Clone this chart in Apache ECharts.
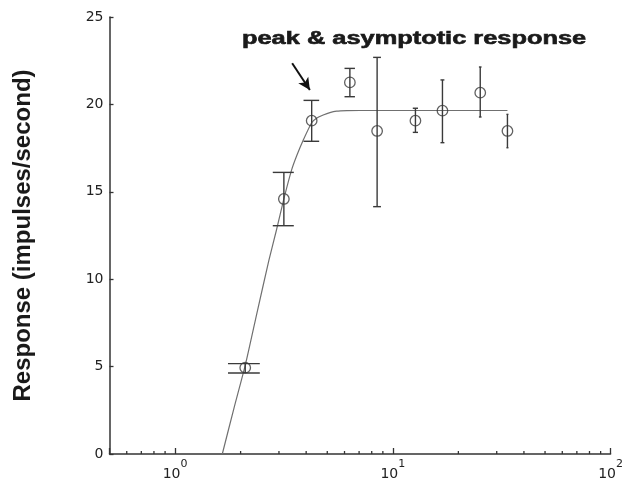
<!DOCTYPE html>
<html><head><meta charset="utf-8">
<script src="https://cdn.jsdelivr.net/npm/echarts@6/dist/echarts.min.js"></script>
<style>html,body{margin:0;padding:0;background:#fff}#c{width:626px;height:487px}</style>
</head><body><div id="c"></div>
<script>
// Measured data points (stimulus value on log axis, response)
const xVals = [2.10, 3.16, 4.24, 6.35, 8.47, 12.7, 16.9, 25.2, 33.6];
const yVals = [4.94, 14.59, 19.07, 21.26, 18.48, 19.07, 19.64, 20.67, 18.48];
const yLow  = [4.63, 13.06, 17.89, 20.44, 14.15, 18.40, 17.81, 19.28, 17.52];
const yHigh = [5.17, 16.11, 20.23, 22.06, 22.69, 19.78, 21.40, 22.14, 19.43];
// Fitted curve
const curveX = [1.648, 1.865, 2.111, 2.385, 2.70, 2.92, 3.16, 3.43, 3.63, 3.88, 4.24, 4.48, 4.79, 5.14, 5.52, 6.15, 7.06, 33.6];
const curveY = [0, 2.63, 5.19, 8.15, 11.1, 12.8, 14.59, 16.25, 17.1, 17.96, 18.95, 19.22, 19.39, 19.53, 19.61, 19.64, 19.65, 19.65];
// Axis ticks
const yTicks = [0, 5, 10, 15, 20, 25];
const minorTicks = [0.6, 0.7, 0.8, 0.9, 2, 3, 4, 5, 6, 7, 8, 9, 20, 30, 40, 50, 60, 70, 80, 90];
const annotationText = 'peak & asymptotic response';
const yAxisTitle = 'Response (impulses/second)';
const arrowFrom = [3.45, 22.35];
const arrowTo = [4.16, 20.82];
const capHalf = 0.35; // error-bar cap half width in data units (as MATLAB draws)

const axisColor = '#333';
const labelFont = 'DejaVu Sans';

const chart = echarts.init(document.getElementById('c'), null, {renderer: 'canvas'});

const option = {
  animation: false,
  backgroundColor: '#fff',
  grid: {left: 109.5, right: 14.3, top: 17, bottom: 33, containLabel: false},
  xAxis: {
    type: 'log', logBase: 10, min: 0.5, max: 100,
    axisLine: {show: true, lineStyle: {color: axisColor, width: 1.5}},
    axisTick: {show: true, inside: true, length: 6, lineStyle: {color: axisColor, width: 1.3}},
    splitLine: {show: false},
    axisLabel: {
      margin: 5,
      formatter: function (v) {
        const l = Math.log10(v);
        const e = Math.round(l);
        if (Math.abs(l - e) > 1e-6) return '';
        return '{b|10}{s|' + e + '}';
      },
      rich: {
        b: {fontSize: 14, fontFamily: labelFont, color: '#222', verticalAlign: 'bottom', padding: [8, 0, 0, 0]},
        s: {fontSize: 11, fontFamily: labelFont, color: '#222', verticalAlign: 'top'}
      }
    }
  },
  yAxis: {
    type: 'value', min: yTicks[0], max: yTicks[yTicks.length - 1], interval: 5,
    name: yAxisTitle, nameLocation: 'middle', nameGap: 74, nameRotate: 90,
    nameTextStyle: {fontSize: 24, fontWeight: 'bold', fontFamily: 'Liberation Sans', color: '#1a1a1a'},
    axisLine: {show: true, lineStyle: {color: axisColor, width: 1.5}},
    axisTick: {show: true, inside: true, length: 4, lineStyle: {color: axisColor, width: 1.3}},
    splitLine: {show: false},
    axisLabel: {margin: 6, fontSize: 14, fontFamily: labelFont, color: '#222'}
  },
  graphic: [{
    type: 'text', x: 242, y: 39, scaleX: 1.41, scaleY: 1,
    style: {text: annotationText, fontSize: 18, fontWeight: 'bold', fontFamily: 'Liberation Sans',
            fill: '#1a1a1a', stroke: '#1a1a1a', lineWidth: 0.6, verticalAlign: 'middle', align: 'left'}
  }],
  series: [
    {
      type: 'line', name: 'fit', data: curveX.map((x, i) => [x, curveY[i]]),
      showSymbol: false, symbol: 'none', smooth: 0.2,
      lineStyle: {color: '#707070', width: 1.2}, silent: true, z: 2,
      markLine: {
        silent: true, symbol: ['none', 'arrow'], symbolSize: [9, 12],
        lineStyle: {color: '#111', width: 2, type: 'solid'}, label: {show: false},
        data: [[{coord: arrowFrom}, {coord: arrowTo}]]
      }
    },
    {
      type: 'custom', name: 'errorbars', silent: true, z: 3,
      data: xVals.map((x, i) => [x, yLow[i], yHigh[i]]),
      encode: {x: 0, y: [1, 2]},
      renderItem: function (params, api) {
        const x = api.value(0), lo = api.value(1), hi = api.value(2);
        const top = api.coord([x, hi]);
        const bot = api.coord([x, lo]);
        const l = api.coord([x - capHalf, hi])[0];
        const r = api.coord([x + capHalf, hi])[0];
        const st = {stroke: '#3a3a3a', lineWidth: 1.4};
        return {type: 'group', children: [
          {type: 'line', shape: {x1: top[0], y1: top[1], x2: bot[0], y2: bot[1]}, style: st},
          {type: 'line', shape: {x1: l, y1: top[1], x2: r, y2: top[1]}, style: st},
          {type: 'line', shape: {x1: l, y1: bot[1], x2: r, y2: bot[1]}, style: st}
        ]};
      }
    },
    {
      type: 'scatter', name: 'points', data: xVals.map((x, i) => [x, yVals[i]]),
      symbol: 'circle', symbolSize: 10.5, silent: true, z: 4,
      itemStyle: {color: 'rgba(0,0,0,0)', borderColor: '#3a3a3a', borderWidth: 1.3}
    },
    {
      type: 'custom', name: 'minorTicks', silent: true, z: 5, clip: false,
      data: minorTicks.map(v => [v, 0]),
      encode: {x: 0, y: 1},
      renderItem: function (params, api) {
        const p = api.coord([api.value(0), 0]);
        return {type: 'line', shape: {x1: p[0], y1: p[1], x2: p[0], y2: p[1] - 3},
                style: {stroke: axisColor, lineWidth: 1.3}};
      }
    }
  ]
};
chart.setOption(option);
</script>
</body></html>
